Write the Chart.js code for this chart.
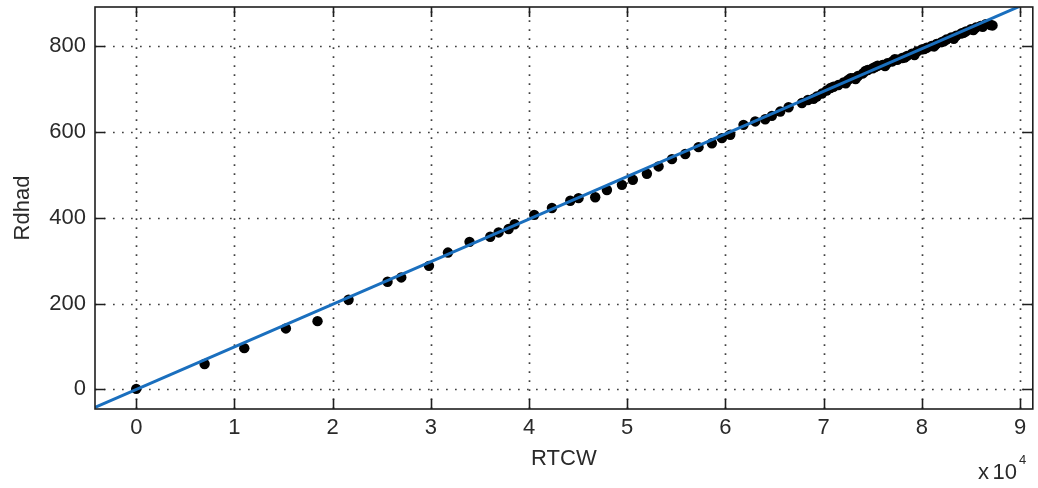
<!DOCTYPE html>
<html>
<head>
<meta charset="utf-8">
<script src="https://cdn.jsdelivr.net/npm/chart.js@4/dist/chart.umd.min.js"></script>
<style>
  html, body { margin: 0; padding: 0; background: #fff; }
  #wrap { width: 1038px; height: 488px; }
</style>
</head>
<body>
<div id="wrap"><canvas id="c" width="1038" height="488"></canvas></div>
<script>
// Measured points: RTCW vs Rdhad
const rtcw = [
  0, 6960, 11000, 15240, 18460, 21620, 25590, 26990, 29810, 31740,
  33940, 36050, 36900, 37920, 38530, 40530, 42330, 44200, 45040, 46740,
  47930, 49460, 50570, 52000, 53190, 54550, 55910, 57260, 58620, 59640,
  60490, 61840, 63030, 64050, 64730, 65580, 66430, 67790, 68400, 68970,
  69300, 69830, 70300, 70700, 71010, 71500, 72030, 72500, 73000, 73500,
  74000, 74500, 75000, 75500, 76000, 76500, 77000, 77500, 78000, 78500,
  79000, 79500, 80000, 80500, 81000, 81500, 82000, 82500, 83000, 83500,
  84000, 84500, 85000, 85500, 86000, 86500, 87000, 87200,
  72250, 72750, 73250, 74250, 75250, 76250, 77250, 78250, 79250, 80250,
  81250, 82250, 83250, 84250, 85250, 86200
];
const rdhad = [
  1, 59, 96, 142, 159, 209, 251, 261, 288, 319,
  344, 356, 366, 374, 385, 407, 423, 440, 446, 448,
  465, 477, 489, 503, 520, 537, 549, 565, 574, 586,
  594, 617, 625, 630, 638, 648, 658, 668, 675, 678,
  683, 690, 697, 703, 706, 710, 716, 722, 726, 731,
  737, 745, 749, 755, 757, 761, 765, 769, 773, 778,
  783, 788, 793, 797, 801, 806, 810, 816, 821, 825,
  830, 835, 840, 844, 848, 852, 850, 849,
  714, 726, 724, 743, 752, 754, 770, 774, 780, 794,
  800, 812, 818, 832, 838, 846
];

// Fitted straight line, end points
const fitX = [-4200, 90000];
const fitY = [-42, 894];

// Axis ticks (x in units of 10^4)
const xTickValues = [0, 1, 2, 3, 4, 5, 6, 7, 8, 9];
const yTickValues = [0, 200, 400, 600, 800];
const xRange = [-4200, 91300];
const yRange = [-46, 892];

const FONT = "'Liberation Sans', Arial, sans-serif";
const TEXT = '#2a2a2a';

const frame = {
  id: 'frame',
  beforeDatasetsDraw(chart) {
    const { ctx, chartArea: a, scales: { x, y } } = chart;
    ctx.save();
    ctx.strokeStyle = '#404040';
    ctx.lineWidth = 1.7;
    ctx.setLineDash([1.7, 7.3]);
    xTickValues.forEach(v => {
      const px = Math.round(x.getPixelForValue(v * 1e4)) + 0.5;
      ctx.beginPath(); ctx.moveTo(px, a.bottom); ctx.lineTo(px, a.top); ctx.stroke();
    });
    yTickValues.forEach(v => {
      const py = Math.round(y.getPixelForValue(v)) + 0.5;
      ctx.beginPath(); ctx.moveTo(a.left, py); ctx.lineTo(a.right, py); ctx.stroke();
    });
    ctx.restore();
  },
  afterDraw(chart) {
    const { ctx, chartArea: a, scales: { x, y } } = chart;
    ctx.save();
    ctx.strokeStyle = '#1e1e1e';
    ctx.lineWidth = 1.6;
    ctx.setLineDash([]);
    const tl = 10;
    xTickValues.forEach(v => {
      const px = Math.round(x.getPixelForValue(v * 1e4)) + 0.5;
      ctx.beginPath();
      ctx.moveTo(px, a.bottom); ctx.lineTo(px, a.bottom - tl);
      ctx.moveTo(px, a.top); ctx.lineTo(px, a.top + tl);
      ctx.stroke();
    });
    yTickValues.forEach(v => {
      const py = Math.round(y.getPixelForValue(v)) + 0.5;
      ctx.beginPath();
      ctx.moveTo(a.left, py); ctx.lineTo(a.left + tl, py);
      ctx.moveTo(a.right, py); ctx.lineTo(a.right - tl, py);
      ctx.stroke();
    });
    ctx.strokeRect(a.left, a.top, a.right - a.left, a.bottom - a.top);

    // exponent note for the x axis
    ctx.fillStyle = TEXT;
    ctx.textBaseline = 'alphabetic';
    ctx.textAlign = 'right';
    ctx.font = '22px ' + FONT;
    ctx.fillText('10', 1017, 479);
    ctx.fillText('x', 989, 479);
    ctx.textAlign = 'left';
    ctx.font = '13px ' + FONT;
    ctx.fillText('4', 1019, 464);
    ctx.restore();
  }
};

new Chart(document.getElementById('c'), {
  type: 'scatter',
  data: {
    datasets: [
      {
        type: 'line',
        data: fitX.map((v, i) => ({ x: v, y: fitY[i] })),
        borderColor: '#1a6fbe',
        borderWidth: 3,
        pointRadius: 0,
        fill: false,
        clip: 0,
        order: 0
      },
      {
        data: rtcw.map((v, i) => ({ x: v, y: rdhad[i] })),
        backgroundColor: '#000',
        borderColor: '#000',
        borderWidth: 0,
        pointRadius: 5.2,
        order: 1
      }
    ]
  },
  options: {
    responsive: false,
    animation: false,
    devicePixelRatio: 1,
    layout: { padding: { top: 7, right: 5, left: 0, bottom: 0 } },
    plugins: { legend: { display: false }, tooltip: { enabled: false } },
    scales: {
      x: {
        type: 'linear',
        min: xRange[0],
        max: xRange[1],
        afterBuildTicks: s => { s.ticks = xTickValues.map(v => ({ value: v * 1e4 })); },
        afterFit: s => { s.height = 79; s.paddingLeft = 0; s.paddingRight = 0; },
        grid: { display: false, drawTicks: false },
        border: { display: false },
        ticks: {
          padding: 6,
          color: TEXT,
          font: { family: FONT, size: 22 },
          maxRotation: 0,
          autoSkip: false,
          callback: v => String(Math.round(v / 1e4))
        },
        title: {
          display: true,
          text: 'RTCW',
          color: TEXT,
          font: { family: FONT, size: 22 },
          padding: { top: 0, bottom: 16 }
        }
      },
      y: {
        type: 'linear',
        min: yRange[0],
        max: yRange[1],
        afterBuildTicks: s => { s.ticks = yTickValues.map(v => ({ value: v })); },
        afterFit: s => { s.width = 95; s.paddingTop = 0; s.paddingBottom = 0; },
        grid: { display: false, drawTicks: false },
        border: { display: false },
        ticks: {
          padding: 9,
          color: TEXT,
          font: { family: FONT, size: 22 },
          autoSkip: false,
          callback: v => String(v)
        },
        title: {
          display: true,
          text: 'Rdhad',
          color: TEXT,
          font: { family: FONT, size: 22 },
          padding: { top: 10, bottom: 0 }
        }
      }
    }
  },
  plugins: [frame]
});
</script>
</body>
</html>
